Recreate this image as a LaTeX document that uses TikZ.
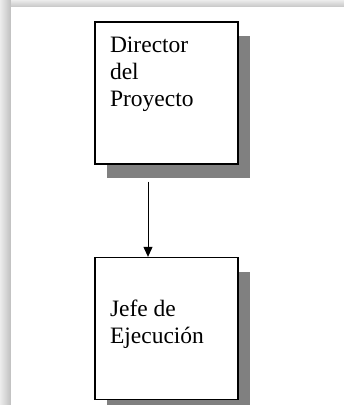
\documentclass[tikz,border=0pt]{standalone}
\usepackage{fontspec}
\setmainfont{Liberation Serif}
\usetikzlibrary{shadows,arrows.meta}
\begin{document}
\begin{tikzpicture}[x=1pt,y=-1pt,every node/.style={font=\fontsize{23.5}{27}\selectfont},
  cargo/.style={draw,line width=1.3pt,fill=white,inner sep=0pt,minimum width=143pt,minimum height=142pt,drop shadow={shadow xshift=12pt,shadow yshift=-14pt,fill=black!50,opacity=1}}]
\useasboundingbox (0,0) rectangle (344,405);
\shade[left color=gray!15,right color=gray!50] (0,0) rectangle (11,405);
\shade[top color=gray!15,bottom color=gray!45] (11,0) rectangle (344,7);
\fill[white] (11,7) rectangle (344,405);
\node[cargo] (dir) at (166.5,93) {\parbox[c][112pt][t]{113pt}{Director\\del\\Proyecto}};
\node[cargo] (jefe) at (166.5,328.5) {\parbox[c][57pt][t]{113pt}{Jefe de\\Ejecución}};
\draw[line width=0.9pt,-{Triangle[length=10pt,width=9pt]},shorten <=17pt] ([xshift=-18.5pt]dir.south) -- ([xshift=-18.5pt]jefe.north);
\end{tikzpicture}
\end{document}
